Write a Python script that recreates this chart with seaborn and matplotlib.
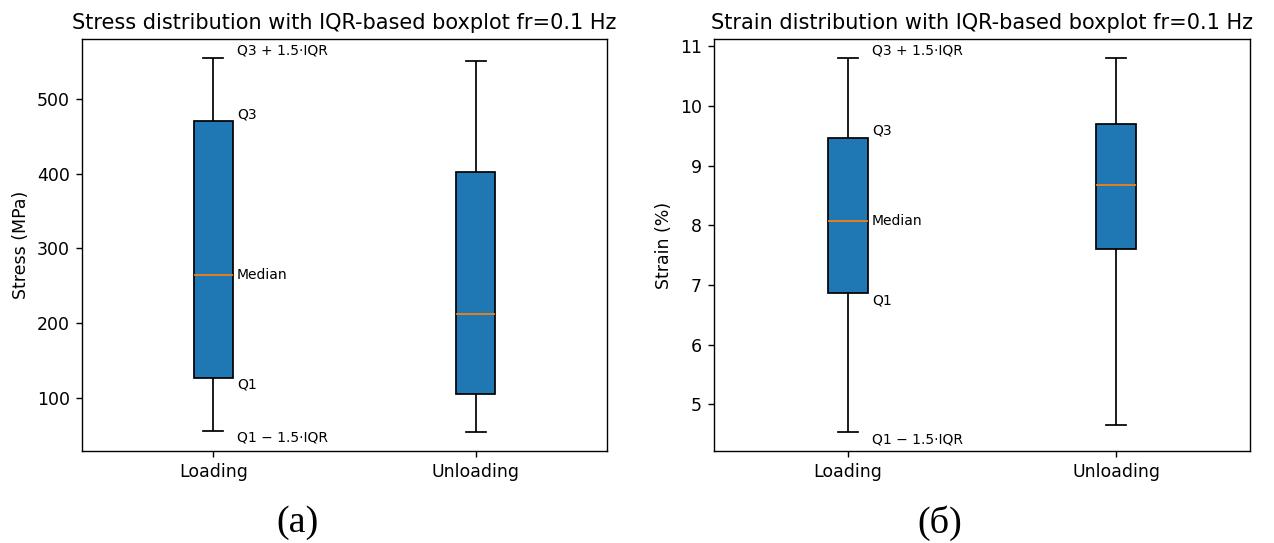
import matplotlib
matplotlib.use("Agg")
import matplotlib.pyplot as plt
import seaborn as sns
import pandas as pd

# ---- data ----
categories = ["Loading", "Unloading"]
# five-number summaries: [lower whisker, Q1, median, Q3, upper whisker]
stress_loading = [56, 127, 265, 470, 555]
stress_unloading = [54, 105, 212, 402, 551]
strain_loading = [4.53, 6.86, 8.08, 9.47, 10.81]
strain_unloading = [4.65, 7.61, 8.67, 9.70, 10.80]

stress_title = "Stress distribution with IQR-based boxplot fr=0.1 Hz"
strain_title = "Strain distribution with IQR-based boxplot fr=0.1 Hz"
stress_ylabel = "Stress (MPa)"
strain_ylabel = "Strain (%)"
annot_labels = ["Q1 \u2212 1.5\u00b7IQR", "Q1", "Median", "Q3", "Q3 + 1.5\u00b7IQR"]
panel_labels = ["(a)", "(\u0431)"]

DPI = 125
fig = plt.figure(figsize=(1274 / DPI, 543 / DPI), dpi=DPI)
ax1 = fig.add_axes([82 / 1274, 1 - 451 / 543, (607 - 82) / 1274, (451 - 39) / 543])
ax2 = fig.add_axes([714 / 1274, 1 - 451 / 543, (1250 - 714) / 1274, (451 - 39) / 543])


def draw(ax, loading, unloading, title, ylabel):
    df = pd.DataFrame({
        "phase": [categories[0]] * len(loading) + [categories[1]] * len(unloading),
        "value": list(loading) + list(unloading),
    })
    sns.boxplot(data=df, x="phase", y="value", order=categories, ax=ax,
                whis=(0, 100), width=0.15, color="#1f77b4", saturation=1,
                linecolor="black", linewidth=1.0,
                medianprops=dict(color="#ff7f0e", linewidth=1.0))
    ax.set_xlabel("")
    ax.set_ylabel(ylabel)
    ax.set_title(title)
    for s in ax.spines.values():
        s.set_visible(True)
    ax.set_xlim(-0.5, 1.5)
    # annotations on the Loading box
    xt = 0.09
    vas = ["top", "top", "center", "bottom", "bottom"]
    for val, lab, va in zip(loading, annot_labels, vas):
        ax.text(xt, val, lab, fontsize=8, ha="left", va=va)


draw(ax1, stress_loading, stress_unloading, stress_title, stress_ylabel)
draw(ax2, strain_loading, strain_unloading, strain_title, strain_ylabel)
ax1.set_yticks([100, 200, 300, 400, 500])
ax2.set_yticks([5, 6, 7, 8, 9, 10, 11])

fig.text(298 / 1274, 1 - 523 / 543, panel_labels[0], family="Liberation Serif",
         fontsize=22, ha="center", va="center")
fig.text(940 / 1274, 1 - 523 / 543, panel_labels[1], family="Liberation Serif",
         fontsize=22, ha="center", va="center")

fig.savefig("out.png", dpi=DPI)
